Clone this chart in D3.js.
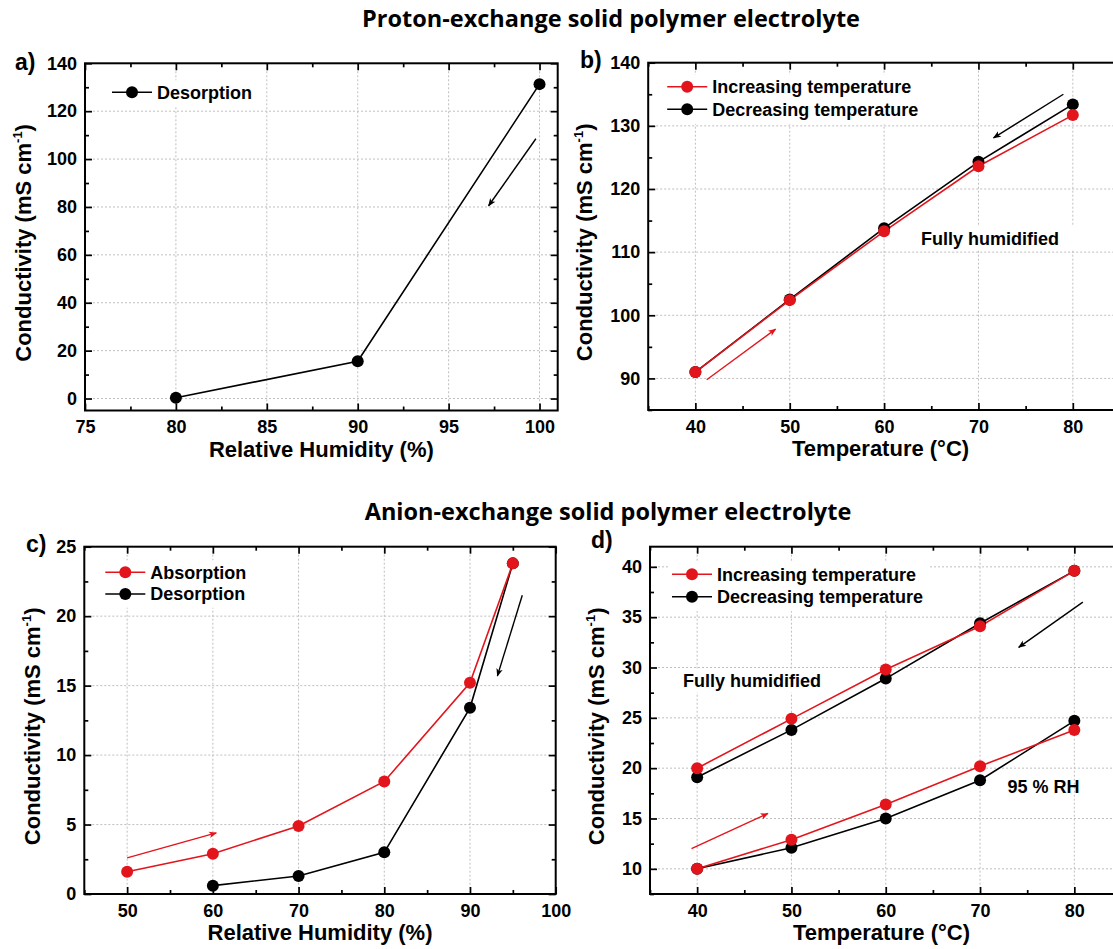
<!DOCTYPE html>
<html>
<head>
<meta charset="utf-8">
<script src="https://cdn.jsdelivr.net/npm/d3@7"></script>
<style>
  body { margin: 0; background: #fff; }
  svg { display: block; }
</style>
</head>
<body>
<svg width="1113" height="949"></svg>
<script>
// ---- Data
const rhA = [80, 90, 100];
const desorptionA = [0.3, 15.6, 131.3];

const tempB = [40, 50, 60, 70, 80];
const increasingB = [91.0, 102.4, 113.3, 123.6, 131.7];
const decreasingB = [91.0, 102.5, 113.8, 124.3, 133.4];

const rhCAbs = [50, 60, 70, 80, 90, 95];
const absorptionC = [1.6, 2.9, 4.9, 8.1, 15.2, 23.8];
const rhCDes = [60, 70, 80, 90, 95];
const desorptionC = [0.6, 1.3, 3.0, 13.4, 23.8];

const tempD = [40, 50, 60, 70, 80];
const incFullD = [20.0, 24.9, 29.8, 34.1, 39.6];
const decFullD = [19.1, 23.8, 28.9, 34.4, 39.6];
const inc95D = [10.0, 12.9, 16.4, 20.2, 23.8];
const dec95D = [10.0, 12.1, 15.0, 18.8, 24.7];

const ticksA = { x: [75, 80, 85, 90, 95, 100], y: [0, 20, 40, 60, 80, 100, 120, 140] };
const ticksB = { x: [40, 50, 60, 70, 80], y: [90, 100, 110, 120, 130, 140] };
const ticksC = { x: [50, 60, 70, 80, 90, 100], y: [0, 5, 10, 15, 20, 25] };
const ticksD = { x: [40, 50, 60, 70, 80], y: [10, 15, 20, 25, 30, 35, 40] };

const titles = ['Proton-exchange solid polymer electrolyte', 'Anion-exchange solid polymer electrolyte'];

const RED = '#e3151c';
const BLACK = '#000';
const font = "'Liberation Sans', Arial, Helvetica, sans-serif";

const zip = (xs, ys) => xs.map((x, i) => ({ x, y: ys[i] }));

const panels = [
    {
        label: 'a)', box: { left: 85, right: 557.7, top: 63.3, bottom: 410.5 },
        xDomain: [75, 101], yDomain: [-5, 140], ticks: ticksA, xStep: 2.5, yStep: 10,
        xTitle: 'Relative Humidity (%)', labelPos: [15, 70], yTitleX: 31,
        series: [{ name: 'Desorption', color: BLACK, pts: zip(rhA, desorptionA) }],
        legend: { dx: 27, dy: 29, gap: 22.6 },
        arrows: [{ color: BLACK, from: [99.8, 108.5], to: [97.2, 80.5] }],
        notes: []
    },
    {
        label: 'b)', box: { left: 648.2, right: 1120, top: 62.7, bottom: 410 },
        xDomain: [35, 85], yDomain: [85, 140], ticks: ticksB, xStep: 5, yStep: 5,
        xTitle: 'Temperature (°C)', labelPos: [580, 68], yTitleX: 592,
        series: [
            { name: 'Increasing temperature', color: RED, pts: zip(tempB, increasingB) },
            { name: 'Decreasing temperature', color: BLACK, pts: zip(tempB, decreasingB) }
        ],
        legend: { dx: 19, dy: 24, gap: 22.6 },
        arrows: [
            { color: BLACK, from: [79.0, 135.0], to: [71.6, 128.1] },
            { color: RED, from: [41.2, 89.8], to: [48.5, 97.8] }
        ],
        notes: [{ text: 'Fully humidified', at: [63.9, 112.2] }]
    },
    {
        label: 'c)', box: { left: 84.3, right: 555.7, top: 546.7, bottom: 894 },
        xDomain: [45, 100], yDomain: [0, 25], ticks: ticksC, xStep: 5, yStep: 2.5,
        xTitle: 'Relative Humidity (%)', labelPos: [26, 552], yTitleX: 40,
        series: [
            { name: 'Absorption', color: RED, pts: zip(rhCAbs, absorptionC) },
            { name: 'Desorption', color: BLACK, pts: zip(rhCDes, desorptionC) }
        ],
        legend: { dx: 21, dy: 25.6, gap: 21.7 },
        arrows: [
            { color: RED, from: [50.0, 2.6], to: [60.4, 4.4] },
            { color: BLACK, from: [96.1, 21.5], to: [93.2, 15.7] }
        ],
        notes: []
    },
    {
        label: 'd)', box: { left: 650, right: 1121.5, top: 546.7, bottom: 894 },
        xDomain: [35, 85], yDomain: [7.5, 42], ticks: ticksD, xStep: 5, yStep: 2.5,
        xTitle: 'Temperature (°C)', labelPos: [591, 548], yTitleX: 604,
        series: [
            { name: 'Increasing temperature', color: RED, pts: zip(tempD, incFullD) },
            { name: 'Decreasing temperature', color: BLACK, pts: zip(tempD, decFullD) },
            { name: null, color: RED, pts: zip(tempD, inc95D) },
            { name: null, color: BLACK, pts: zip(tempD, dec95D) }
        ],
        legend: { dx: 22, dy: 27.6, gap: 22.4 },
        arrows: [
            { color: BLACK, from: [80.9, 36.5], to: [74.1, 32.0] },
            { color: RED, from: [39.4, 12.0], to: [47.5, 15.5] }
        ],
        notes: [
            { text: 'Fully humidified', at: [38.5, 28.7] },
            { text: '95 % RH', at: [72.9, 18.2], noBg: true }
        ]
    }
];

const svg = d3.select('svg');

// ---- Arrow heads
const defs = svg.append('defs');
[['red', RED], ['black', BLACK]].forEach(([id, c]) => {
    defs.append('marker')
        .attr('id', 'arrow-' + id)
        .attr('viewBox', '0 0 10 10')
        .attr('refX', 9).attr('refY', 5)
        .attr('markerUnits', 'userSpaceOnUse')
        .attr('markerWidth', 9).attr('markerHeight', 8)
        .attr('orient', 'auto')
        .append('path')
        .attr('d', 'M0,1 L10,5 L0,9 L2.5,5 z')
        .attr('fill', c);
});

// ---- Section titles
svg.append('text')
    .attr('x', 611).attr('y', 27)
    .attr('text-anchor', 'middle')
    .attr('font-family', "'Open Sans', 'Noto Sans', sans-serif")
    .attr('font-weight', 700)
    .attr('font-size', '23.5px')
    .text(titles[0]);

svg.append('text')
    .attr('x', 608).attr('y', 520)
    .attr('text-anchor', 'middle')
    .attr('font-family', "'Open Sans', 'Noto Sans', sans-serif")
    .attr('font-weight', 700)
    .attr('font-size', '23.5px')
    .text(titles[1]);

function minorTicks(domain, step, majors) {
    const out = [];
    for (let v = Math.ceil(domain[0] / step) * step; v <= domain[1] + 1e-9; v += step) {
        const r = Math.round(v * 100) / 100;
        if (!majors.some(m => Math.abs(m - r) < 1e-6)) out.push(r);
    }
    return out;
}

panels.forEach(p => {
    const b = p.box;
    const w = b.right - b.left;
    const h = b.bottom - b.top;
    const x = d3.scaleLinear().domain(p.xDomain).range([0, w]);
    const y = d3.scaleLinear().domain(p.yDomain).range([h, 0]);

    const g = svg.append('g').attr('transform', `translate(${b.left}, ${b.top})`);

    // ---- Grid
    const grid = g.append('g')
        .attr('stroke', '#b8b8b8')
        .attr('stroke-width', 0.9)
        .attr('stroke-dasharray', '2,2');
    grid.selectAll('.gx')
        .data(p.ticks.x.filter(v => v > p.xDomain[0] && v < p.xDomain[1]))
        .join('line')
        .attr('x1', d => x(d)).attr('x2', d => x(d))
        .attr('y1', 0).attr('y2', h);
    grid.selectAll('.gy')
        .data(p.ticks.y.filter(v => v > p.yDomain[0] && v < p.yDomain[1]))
        .join('line')
        .attr('x1', 0).attr('x2', w)
        .attr('y1', d => y(d)).attr('y2', d => y(d));

    // ---- White boxes behind legend and notes
    const named = p.series.filter(s => s.name);
    const lg = p.legend;
    const legendW = d3.max(named, s => s.name.length) * 9.6 + 50;
    g.append('rect')
        .attr('x', lg.dx - 4).attr('y', lg.dy - 12)
        .attr('width', legendW).attr('height', named.length * lg.gap + 4)
        .attr('fill', '#fff');

    p.notes.filter(n => !n.noBg).forEach(n => {
        g.append('rect')
            .attr('x', x(n.at[0]) - 10).attr('y', y(n.at[1]) - 12)
            .attr('width', n.text.length * 9.2 + 20).attr('height', 24)
            .attr('fill', '#fff');
    });

    // ---- Axes (ticks pointing inward, on all four sides)
    const axisStyle = sel => {
        sel.select('.domain').remove();
        sel.selectAll('line').attr('stroke', '#000').attr('stroke-width', 1.7);
        sel.selectAll('text')
            .attr('font-family', font)
            .attr('font-weight', 'bold')
            .attr('font-size', '18px')
            .attr('fill', '#000');
    };
    const xMinor = minorTicks(p.xDomain, p.xStep, p.ticks.x);
    const yMinor = minorTicks(p.yDomain, p.yStep, p.ticks.y);

    g.append('g').attr('transform', `translate(0, ${h})`)
        .call(d3.axisBottom(x).tickValues(p.ticks.x).tickSize(-7).tickSizeOuter(0).tickPadding(10).tickFormat(d3.format('d')))
        .call(axisStyle);
    g.append('g').attr('transform', `translate(0, ${h})`)
        .call(d3.axisBottom(x).tickValues(xMinor).tickSize(-4).tickSizeOuter(0).tickFormat(''))
        .call(axisStyle);
    g.append('g')
        .call(d3.axisTop(x).tickValues(p.ticks.x).tickSize(-7).tickSizeOuter(0).tickFormat(''))
        .call(axisStyle);
    g.append('g')
        .call(d3.axisTop(x).tickValues(xMinor).tickSize(-4).tickSizeOuter(0).tickFormat(''))
        .call(axisStyle);

    g.append('g')
        .call(d3.axisLeft(y).tickValues(p.ticks.y).tickSize(-7).tickSizeOuter(0).tickPadding(8).tickFormat(d3.format('d')))
        .call(axisStyle);
    g.append('g')
        .call(d3.axisLeft(y).tickValues(yMinor).tickSize(-4).tickSizeOuter(0).tickFormat(''))
        .call(axisStyle);
    g.append('g').attr('transform', `translate(${w}, 0)`)
        .call(d3.axisRight(y).tickValues(p.ticks.y).tickSize(-7).tickSizeOuter(0).tickFormat(''))
        .call(axisStyle);
    g.append('g').attr('transform', `translate(${w}, 0)`)
        .call(d3.axisRight(y).tickValues(yMinor).tickSize(-4).tickSizeOuter(0).tickFormat(''))
        .call(axisStyle);

    // ---- Frame
    g.append('rect')
        .attr('width', w).attr('height', h)
        .attr('fill', 'none')
        .attr('stroke', '#000')
        .attr('stroke-width', 2);

    // ---- Series (black first, red on top)
    const line = d3.line().x(d => x(d.x)).y(d => y(d.y));
    const order = [...p.series].sort((s1, s2) => (s1.color === RED) - (s2.color === RED));
    order.forEach(s => {
        g.append('path')
            .datum(s.pts)
            .attr('d', line)
            .attr('fill', 'none')
            .attr('stroke', s.color)
            .attr('stroke-width', 1.6);
    });
    order.forEach(s => {
        g.append('g').selectAll('circle')
            .data(s.pts)
            .join('circle')
            .attr('cx', d => x(d.x))
            .attr('cy', d => y(d.y))
            .attr('r', 6)
            .attr('fill', s.color);
    });

    // ---- Legend
    named.forEach((s, i) => {
        const ly = lg.dy + i * lg.gap;
        g.append('line')
            .attr('x1', lg.dx).attr('x2', lg.dx + 40)
            .attr('y1', ly).attr('y2', ly)
            .attr('stroke', s.color).attr('stroke-width', 1.6);
        g.append('circle')
            .attr('cx', lg.dx + 20).attr('cy', ly).attr('r', 6)
            .attr('fill', s.color);
        g.append('text')
            .attr('x', lg.dx + 45).attr('y', ly)
            .attr('dy', '0.35em')
            .attr('font-family', font)
            .attr('font-weight', 'bold')
            .attr('font-size', '18px')
            .text(s.name);
    });

    // ---- Arrows
    p.arrows.forEach(a => {
        g.append('line')
            .attr('x1', x(a.from[0])).attr('y1', y(a.from[1]))
            .attr('x2', x(a.to[0])).attr('y2', y(a.to[1]))
            .attr('stroke', a.color)
            .attr('stroke-width', 1.4)
            .attr('marker-end', `url(#arrow-${a.color === RED ? 'red' : 'black'})`);
    });

    // ---- Notes
    p.notes.forEach(n => {
        g.append('text')
            .attr('x', x(n.at[0])).attr('y', y(n.at[1]))
            .attr('dy', '0.35em')
            .attr('font-family', font)
            .attr('font-weight', 'bold')
            .attr('font-size', '18px')
            .text(n.text);
    });

    // ---- Axis titles and panel label
    svg.append('text')
        .attr('x', b.left + Math.min(w, 1113 - b.left) / 2)
        .attr('y', b.bottom + 46)
        .attr('text-anchor', 'middle')
        .attr('font-family', font)
        .attr('font-weight', 'bold')
        .attr('font-size', '22px')
        .text(p.xTitle);

    const yt = svg.append('text')
        .attr('transform', `translate(${p.yTitleX}, ${b.top + h / 2 + 6}) rotate(-90)`)
        .attr('text-anchor', 'middle')
        .attr('font-family', font)
        .attr('font-weight', 'bold')
        .attr('font-size', '22px');
    yt.append('tspan').text('Conductivity (mS cm');
    yt.append('tspan').attr('font-size', '13px').attr('dy', '-9').text('-1');
    yt.append('tspan').attr('dy', '9').text(')');

    svg.append('text')
        .attr('x', p.labelPos[0]).attr('y', p.labelPos[1])
        .attr('font-family', font)
        .attr('font-weight', 'bold')
        .attr('font-size', '23px')
        .text(p.label);
});
</script>
</body>
</html>
